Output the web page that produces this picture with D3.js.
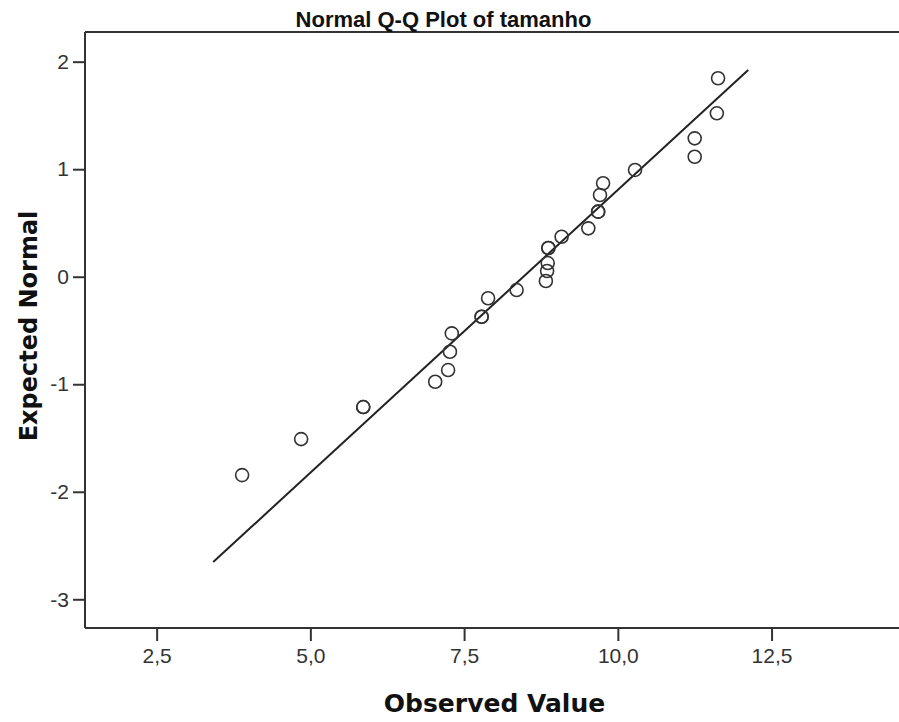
<!DOCTYPE html>
<html>
<head>
<meta charset="utf-8">
<script src="https://cdn.jsdelivr.net/npm/d3@7"></script>
<style>
  body { margin: 0; background: #fff; }
  svg { display: block; }
</style>
</head>
<body>
<svg id="chart" width="899" height="722"></svg>
<script>
// values
const observed = [3.89, 4.85, 5.86, 5.86, 7.03, 7.24, 7.27, 7.30, 7.785, 7.785, 7.89, 8.354,
  8.83, 8.85, 8.86, 8.87, 8.87, 9.086, 9.52, 9.68, 9.68, 9.71, 9.76, 10.28, 11.25, 11.25, 11.61, 11.63];
const expected = [-1.845, -1.51, -1.212, -1.212, -0.977, -0.868, -0.698, -0.527, -0.372, -0.372, -0.2, -0.124,
  -0.04, 0.053, 0.127, 0.267, 0.267, 0.372, 0.45, 0.605, 0.605, 0.76, 0.869, 0.993, 1.116, 1.287, 1.52, 1.846];
const refLineX = [3.42, 12.12];
const refLineY = [-2.654, 1.923];
const xTicks = [2.5, 5, 7.5, 10, 12.5];
const yTicks = [-3, -2, -1, 0, 1, 2];

const svg = d3.select("#chart");
const plotLeft = 85, plotRight = 905, plotTop = 32, plotBottom = 628;

const x = d3.scaleLinear().domain([1.335, 14.67]).range([plotLeft, plotRight]);
const y = d3.scaleLinear().domain([-3.267, 2.276]).range([plotBottom, plotTop]);

// decimal comma, plain hyphen for negatives
const commaFmt = (d) => d.toFixed(1).replace(".", ",");

// frame top line (right edge falls outside the picture)
svg.append("line")
  .attr("x1", plotLeft).attr("x2", plotRight)
  .attr("y1", plotTop).attr("y2", plotTop)
  .attr("stroke", "#333").attr("stroke-width", 2);

// x axis
const gx = svg.append("g")
  .attr("transform", `translate(0,${plotBottom})`)
  .call(d3.axisBottom(x).tickValues(xTicks).tickFormat(commaFmt)
    .tickSize(13).tickSizeOuter(0).tickPadding(7));

// y axis
const gy = svg.append("g")
  .attr("transform", `translate(${plotLeft},0)`)
  .call(d3.axisLeft(y).tickValues(yTicks).tickFormat((d) => String(d))
    .tickSize(12).tickSizeOuter(0).tickPadding(4));

[gx, gy].forEach((g) => {
  g.select(".domain").attr("stroke", "#333").attr("stroke-width", 2);
  g.selectAll(".tick line").attr("stroke", "#333").attr("stroke-width", 2);
  g.selectAll(".tick text")
    .attr("fill", "#333")
    .style("font-family", "'Liberation Sans', Arial, sans-serif")
    .style("font-size", "21px");
});
gy.select(".domain").attr("d", `M0,${plotTop}V${plotBottom}`);
gx.select(".domain").attr("d", `M${plotLeft},0H${plotRight}`);

// reference line
svg.append("line")
  .attr("x1", x(refLineX[0])).attr("y1", y(refLineY[0]))
  .attr("x2", x(refLineX[1])).attr("y2", y(refLineY[1]))
  .attr("stroke", "#222").attr("stroke-width", 2);

// points
svg.append("g")
  .selectAll("circle")
  .data(observed.map((v, i) => ({ v, e: expected[i] })))
  .join("circle")
  .attr("cx", (d) => x(d.v))
  .attr("cy", (d) => y(d.e))
  .attr("r", 6.5)
  .attr("fill", "none")
  .attr("stroke", "#333")
  .attr("stroke-width", 1.6);

// title
svg.append("text")
  .attr("x", 443.5).attr("y", 26.5)
  .attr("text-anchor", "middle")
  .style("font-family", "'Liberation Sans', Arial, sans-serif")
  .style("font-weight", "bold")
  .style("font-size", "22px")
  .attr("fill", "#111")
  .text("Normal Q-Q Plot of tamanho");

// axis titles
svg.append("text")
  .attr("x", 494.5).attr("y", 711.5)
  .attr("text-anchor", "middle")
  .style("font-family", "'DejaVu Sans', Verdana, sans-serif")
  .style("font-weight", "bold")
  .style("font-size", "25px")
  .attr("fill", "#111")
  .text("Observed Value");

svg.append("text")
  .attr("transform", "translate(37,326) rotate(-90)")
  .attr("text-anchor", "middle")
  .style("font-family", "'DejaVu Sans', Verdana, sans-serif")
  .style("font-weight", "bold")
  .style("font-size", "24px")
  .attr("fill", "#111")
  .text("Expected Normal");
</script>
</body>
</html>
